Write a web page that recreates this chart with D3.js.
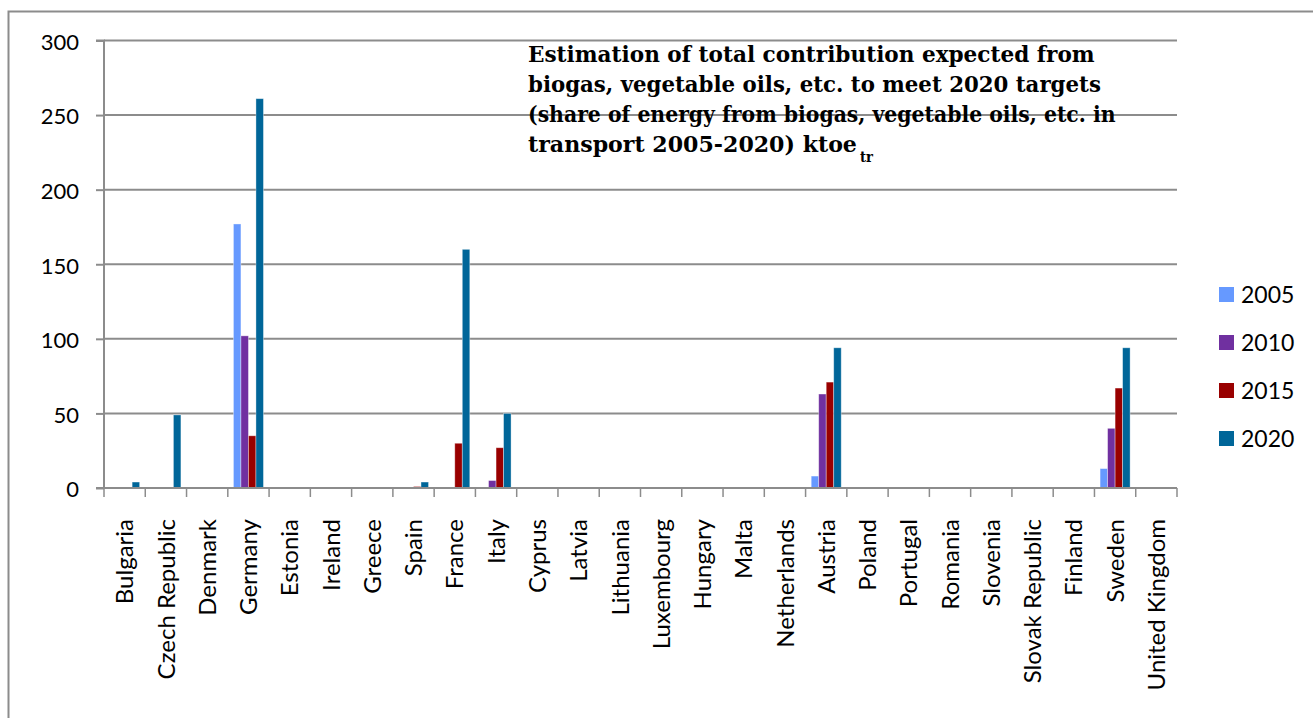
<!DOCTYPE html>
<html>
<head>
<meta charset="utf-8">
<script src="https://cdn.jsdelivr.net/npm/d3@7"></script>
<style>
  html, body { margin: 0; padding: 0; background: #fff; }
  svg { display: block; }
</style>
</head>
<body>
<svg id="chart" width="1313" height="718"></svg>
<script>
// Member states along the category axis
const countries = [
  "Bulgaria", "Czech Republic", "Denmark", "Germany", "Estonia", "Ireland",
  "Greece", "Spain", "France", "Italy", "Cyprus", "Latvia", "Lithuania",
  "Luxembourg", "Hungary", "Malta", "Netherlands", "Austria", "Poland",
  "Portugal", "Romania", "Slovenia", "Slovak Republic", "Finland", "Sweden",
  "United Kingdom"
];

// Years shown as series
const years = ["2005", "2010", "2015", "2020"];

// ktoe per country for each year (same order as countries)
const values2005 = [0, 0, 0, 177, 0, 0, 0, 0, 0, 0, 0, 0, 0, 0, 0, 0, 0, 8, 0, 0, 0, 0, 0, 0, 13, 0];
const values2010 = [0, 0, 0, 102, 0, 0.5, 0, 0, 0, 5, 0, 0, 0, 0, 0, 0, 0, 63, 0, 0, 0, 0, 0, 0, 40, 0];
const values2015 = [0, 0, 0, 35, 0, 0.5, 0, 1, 30, 27, 0, 0, 0, 0, 0, 0, 0, 71, 0, 0, 0, 0, 0, 0, 67, 0];
const values2020 = [4, 49, 0, 261, 0, 0.5, 0, 4, 160, 50, 0, 0, 0, 0, 0, 0, 0, 94, 0, 0, 0, 0, 0, 0, 94, 0];

const yTicks = [0, 50, 100, 150, 200, 250, 300];

const titleLines = [
  "Estimation of total contribution expected from",
  "biogas, vegetable oils, etc. to meet 2020 targets",
  "(share of energy from biogas, vegetable oils, etc. in",
  "transport 2005-2020) ktoe"
];
const titleSub = "tr";

const seriesColors = ["#6699ff", "#7030a0", "#990000", "#006699"];

const series = [values2005, values2010, values2015, values2020];
const table = countries.map((c, i) => ({
  country: c,
  vals: years.map((yr, k) => ({ year: yr, k, v: series[k][i] }))
}));

const svg = d3.select("#chart");
const gridColor = "#8c8c8c";
const labelFont = "Lato, 'Open Sans', sans-serif";

// Outer chart frame (runs past the right and bottom edges)
svg.append("rect")
  .attr("x", 8.5).attr("y", 11.5)
  .attr("width", 1400).attr("height", 800)
  .attr("fill", "none")
  .attr("stroke", gridColor)
  .attr("stroke-width", 2);

const plotLeft = 104, plotRight = 1177, plotTop = 40.5, plotBottom = 488;

const x0 = d3.scaleBand().domain(countries).range([plotLeft, plotRight]).paddingInner(0).paddingOuter(0);
const x1 = d3.scaleBand().domain(years).range([0, x0.bandwidth()]).paddingInner(0).paddingOuter(0.75);
const y = d3.scaleLinear().domain([0, 300]).range([plotBottom, plotTop]);

// Horizontal gridlines
svg.append("g")
  .selectAll("line")
  .data(yTicks.filter(t => t > 0))
  .join("line")
  .attr("x1", plotLeft).attr("x2", plotRight)
  .attr("y1", d => y(d)).attr("y2", d => y(d))
  .attr("stroke", gridColor)
  .attr("stroke-width", 2);

// Bars
const groups = svg.append("g")
  .selectAll("g")
  .data(table)
  .join("g")
  .attr("transform", d => `translate(${x0(d.country)},0)`);

groups.selectAll("rect")
  .data(d => d.vals.filter(v => v.v > 0))
  .join("rect")
  .attr("x", d => x1(d.year))
  .attr("width", x1.bandwidth())
  .attr("y", d => y(d.v))
  .attr("height", d => Math.max(1, y(0) - y(d.v)))
  .attr("fill", d => seriesColors[d.k])
  .attr("stroke", "rgba(255,255,255,0.45)")
  .attr("stroke-width", 0.8);

// Y axis
const yAxis = d3.axisLeft(y).tickValues(yTicks).tickSize(8).tickPadding(17);
const gy = svg.append("g").attr("transform", `translate(${plotLeft},0)`).call(yAxis);
gy.select(".domain").attr("stroke", gridColor).attr("stroke-width", 2).attr("d", `M-8,${plotTop}H0V${plotBottom}H-8`);
gy.selectAll(".tick line").attr("stroke", gridColor).attr("stroke-width", 2);
gy.selectAll(".tick text")
  .attr("font-family", labelFont)
  .attr("font-size", 22)
  .attr("fill", "#000")
  .attr("dy", "0.4em");

// X axis with tick marks at category boundaries
const gx = svg.append("g").attr("transform", `translate(0,${plotBottom})`);
gx.append("line")
  .attr("x1", plotLeft).attr("x2", plotRight)
  .attr("stroke", gridColor).attr("stroke-width", 2);
const boundaries = countries.map(c => x0(c)).concat([plotRight]);
gx.selectAll("line.tk")
  .data(boundaries)
  .join("line")
  .attr("class", "tk")
  .attr("x1", d => d).attr("x2", d => d)
  .attr("y1", 0).attr("y2", 9)
  .attr("stroke", gridColor).attr("stroke-width", 1.5);

gx.selectAll("text")
  .data(countries)
  .join("text")
  .attr("transform", d => `translate(${x0(d) + x0.bandwidth() / 2},31) rotate(-90)`)
  .attr("text-anchor", "end")
  .attr("dy", "0.36em")
  .attr("font-family", labelFont)
  .attr("font-size", 24)
  .attr("fill", "#000")
  .text(d => d);

// Legend
const legend = svg.append("g").attr("transform", "translate(1219,287)");
const li = legend.selectAll("g").data(years).join("g")
  .attr("transform", (d, i) => `translate(0,${i * 48})`);
li.append("rect")
  .attr("width", 15).attr("height", 15)
  .attr("fill", (d, i) => seriesColors[i]);
li.append("text")
  .attr("x", 22).attr("y", 7.5).attr("dy", "0.36em")
  .attr("font-family", labelFont)
  .attr("font-size", 23)
  .attr("fill", "#000")
  .text(d => d);

// Title block: each line is squeezed horizontally to its set width
const titleFont = "'DejaVu Serif', serif";
function fittedLine(str, x, yBase, size, width) {
  const t = svg.append("text")
    .attr("font-family", titleFont)
    .attr("font-weight", "bold")
    .attr("font-size", size)
    .attr("fill", "#000")
    .text(str);
  const natural = t.node().getComputedTextLength();
  const sx = natural > 0 ? width / natural : 1;
  t.attr("transform", `translate(${x},${yBase}) scale(${sx},1)`);
  return t;
}
const lineWidths = [567, 573, 588, 329];
titleLines.forEach((t, i) => fittedLine(t, 528, 62 + i * 30, 23, lineWidths[i]));
fittedLine(titleSub, 860, 162, 15, 13);
</script>
</body>
</html>
